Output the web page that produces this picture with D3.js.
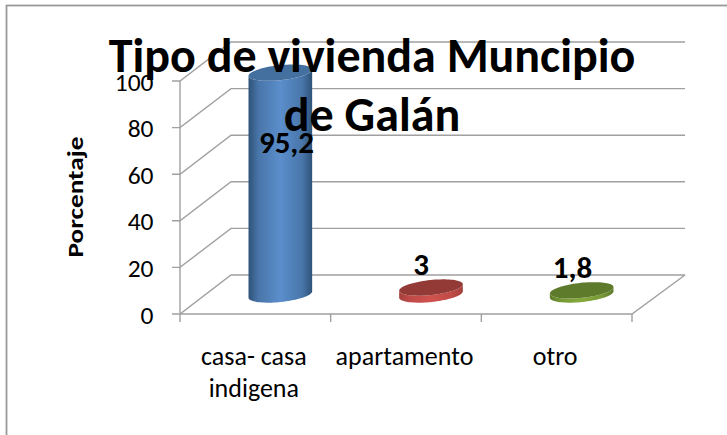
<!DOCTYPE html>
<html><head><meta charset="utf-8">
<script src="https://cdn.jsdelivr.net/npm/d3@7/dist/d3.min.js"></script>
<style>html,body{margin:0;padding:0;background:#fff}svg{display:block}text{font-family:Carlito,Calibri,"Open Sans","Noto Sans",sans-serif;fill:#000}</style>
</head><body><svg id="c" width="727" height="435"></svg>
<script>
const categories = ["casa- casa|indigena", "apartamento", "otro"];
const values = [95.2, 3, 1.8];
const valueLabels = ["95,2", "3", "1,8"];
const yTicks = [0, 20, 40, 60, 80, 100];
const titleLines = ["Tipo de vivienda Muncipio", "de Galán"];
const yTitle = "Porcentaje";
const baseColors = [["#2f5379","#5b8ecb"],["#a33f3c","#d0524e"],["#5c7a2a","#86ab3c"]];
const topColors = ["#44709f","#933a37","#5e7a2b"];

const svg = d3.select("#c");
const x = d3.scaleBand().domain(categories).range([180, 632]).paddingInner(0).paddingOuter(0);
const y = d3.scaleLinear().domain([0, 100]).range([314, 81]);
const depth = d3.scaleLinear().domain([0, 1]).range([[0, 0], [53, -39]]);
const grey = "#a0a0a0";

svg.append("rect").attr("x", 6.5).attr("y", 5.5).attr("width", 740).attr("height", 440)
  .attr("fill", "#fff").attr("stroke", "#9a9a9a").attr("stroke-width", 1.8);

const [bx, by] = depth(1), [mx, my] = depth(0.5);
const leftBack = 51;

// walls
yTicks.forEach(t => {
  svg.append("path").attr("fill", "none").attr("stroke", grey).attr("stroke-width", 1.4)
    .attr("d", d3.line()([[180 - 8, y(t)], [180, y(t)], [180 + leftBack, y(t) + by], [632 + bx, y(t) + by]]));
});
svg.append("path").attr("fill", "none").attr("stroke", grey).attr("stroke-width", 1.4)
  .attr("d", d3.line()([[180, y(100)], [180, y(0) + 8]]));
svg.append("path").attr("fill", "none").attr("stroke", grey).attr("stroke-width", 1.4)
  .attr("d", d3.line()([[180, y(0)], [632, y(0)], [632 + bx, y(0) + by]]));
categories.forEach((c, i) => {
  const px = x(c) + x.bandwidth();
  svg.append("line").attr("x1", px).attr("x2", px).attr("y1", y(0)).attr("y2", y(0) + 8)
    .attr("stroke", grey).attr("stroke-width", 1.4);
});

// cylinders
const defs = svg.append("defs");
const rx = 32, ry = 7.5, tilt = -6;
const rad = tilt * Math.PI / 180;
function pt(cx, cy, a) {
  const px = rx * Math.cos(a), py = ry * Math.sin(a);
  return [cx + px * Math.cos(rad) - py * Math.sin(rad), cy + px * Math.sin(rad) + py * Math.cos(rad)];
}
values.forEach((v, i) => {
  const c = categories[i];
  const cx = x(c) + x.bandwidth() / 2 + mx - 1.5;
  const y0 = y(0) + my, y1 = y(v) + my;
  const mid = d3.interpolateRgb(baseColors[i][0], baseColors[i][1])(0.6);
  const g = defs.append("linearGradient").attr("id", "g" + i);
  [[0, baseColors[i][0]], [.16, mid], [.5, baseColors[i][1]], [.84, mid], [1, baseColors[i][0]]]
    .forEach(([o, col]) => g.append("stop").attr("offset", o).attr("stop-color", col));
  const lower = d3.range(0, 41).map(k => pt(cx, y0, Math.PI * k / 40));
  const upper = d3.range(0, 41).map(k => pt(cx, y1, Math.PI * (40 - k) / 40));
  svg.append("path").attr("d", d3.line()(lower.concat(upper)) + "Z").attr("fill", `url(#g${i})`);
  const top = d3.range(0, 81).map(k => pt(cx, y1, 2 * Math.PI * k / 80));
  svg.append("path").attr("d", d3.line()(top) + "Z").attr("fill", topColors[i]);
});

// tick labels
yTicks.forEach(t => {
  svg.append("text").attr("x", 153.5).attr("y", y(t) + 9.5).attr("text-anchor", "end")
    .attr("font-size", 25.5).text(t);
});
categories.forEach(c => {
  c.split("|").forEach((s, k) => {
    svg.append("text").attr("x", x(c) + x.bandwidth() / 2 - 1.5).attr("y", 365 + k * 32)
      .attr("text-anchor", "middle").attr("font-size", 26).text(s);
  });
});
svg.append("text").attr("transform", "translate(83,197) rotate(-90)").attr("text-anchor", "middle")
  .attr("font-size", 22).attr("font-weight", "bold").attr("textLength", 121)
  .attr("lengthAdjust", "spacingAndGlyphs").text(yTitle);

// value labels
const labelPos = [[286.5, 153], [421, 275], [572.5, 278]];
valueLabels.forEach((s, i) => {
  svg.append("text").attr("x", labelPos[i][0]).attr("y", labelPos[i][1]).attr("text-anchor", "middle")
    .attr("font-size", 31).attr("font-weight", "bold").text(s);
});

// title
titleLines.forEach((s, k) => {
  svg.append("text").attr("x", 372).attr("y", 72 + k * 59).attr("text-anchor", "middle")
    .attr("font-size", 48).attr("font-weight", "bold").text(s);
});
</script></body></html>
